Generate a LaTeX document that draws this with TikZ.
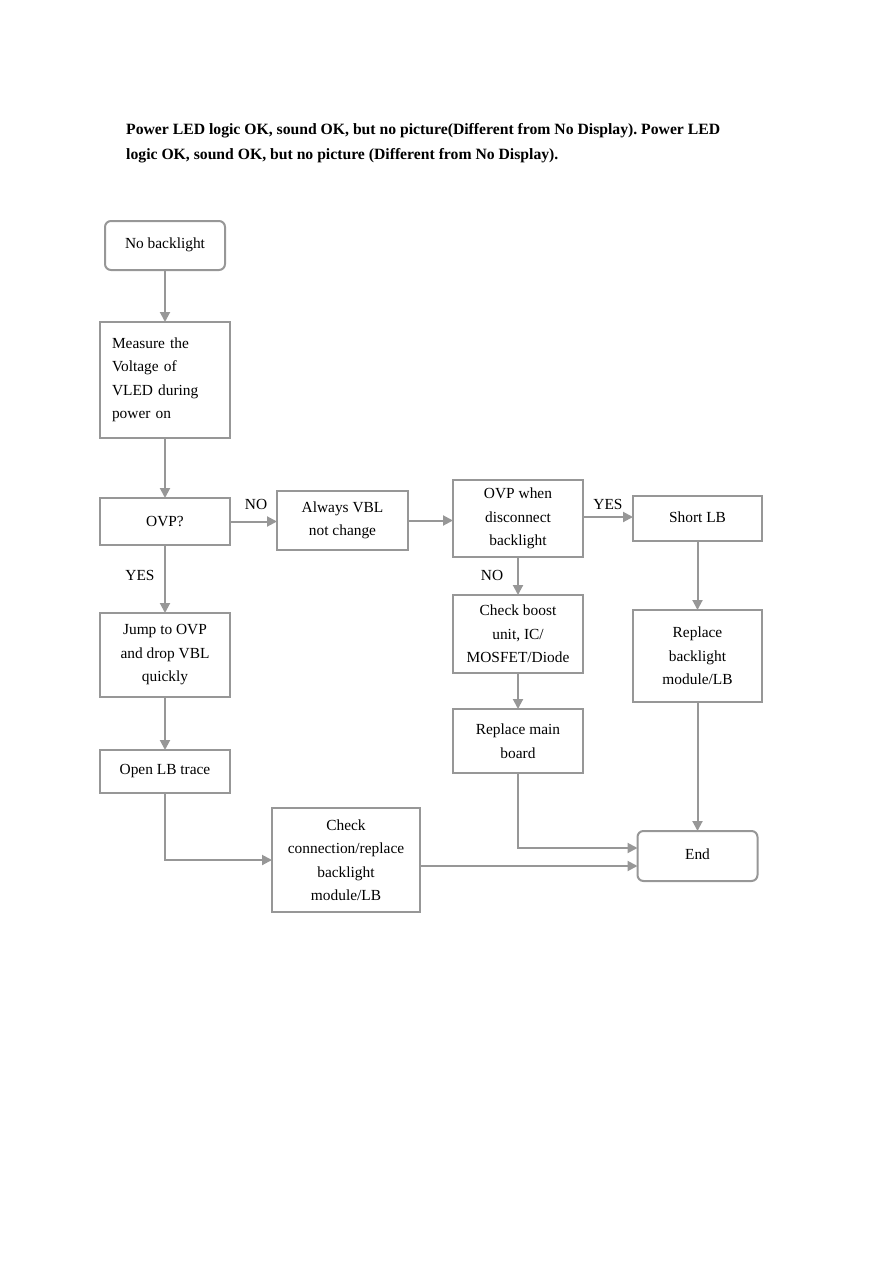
\documentclass[tikz,border=0pt]{standalone}
\usepackage{fontspec}
\setmainfont{Liberation Serif}
\usetikzlibrary{arrows.meta}
\frenchspacing
\definecolor{lg}{HTML}{979797}
\tikzset{
  box/.style={draw=lg, line width=2pt, inner sep=3pt, outer sep=0pt, align=center,
    font=\fontsize{15.4}{23.5}\selectfont},
  rbox/.style={box, rounded corners=6pt},
  conn/.style={draw=lg, line width=2pt, -{Triangle[width=10pt,length=10pt]}},
  lbl/.style={font=\fontsize{15.4}{18}\selectfont, inner sep=0pt}
}
\begin{document}
\begin{tikzpicture}[x=1pt,y=-1pt]
\useasboundingbox (0,0) rectangle (893,1263);
\node[anchor=base west, align=left, inner sep=0pt, font=\bfseries\fontsize{15.7}{25}\selectfont] (title) at (126,159)
  {Power LED logic OK, sound OK, but no picture(Different from No Display). Power LED\\
   logic OK, sound OK, but no picture (Different from No Display).};

\node[rbox, minimum width=120, minimum height=49] (nb) at (165,245.5) {\raisebox{4pt}{No backlight}};
\node[box, minimum width=130, minimum height=116, text width=106, inner xsep=12, align=left] (ms) at (165,380)
  {Measure the\\Voltage of\\VLED during\\power on};
\node[box, minimum width=130, minimum height=47] (ovp) at (165,521.5) {OVP?};
\node[box, minimum width=131, minimum height=59] (alw) at (342.5,520.5) {Always VBL\\not change};
\node[box, minimum width=130, minimum height=77] (ovw) at (518,518.5) {OVP when\\disconnect\\backlight};
\node[box, minimum width=129, minimum height=45] (sl) at (697.5,518.5) {\raisebox{3pt}{Short LB}};
\node[box, minimum width=130, minimum height=84] (jmp) at (165,655) {Jump to OVP\\and drop VBL\\quickly};
\node[box, minimum width=130, minimum height=78] (cb) at (518,634) {Check boost\\unit, IC/\\MOSFET/Diode};
\node[box, minimum width=129, minimum height=92] (rb) at (697.5,656) {Replace\\backlight\\module/LB};
\node[box, minimum width=130, minimum height=64] (rm) at (518,741) {Replace main\\board};
\node[box, minimum width=130, minimum height=43] (ol) at (165,771.5) {Open LB trace};
\node[box, minimum width=148, minimum height=104] (cc) at (346,860) {Check\\connection/replace\\backlight\\module/LB};
\node[rbox, minimum width=120, minimum height=50] (end) at (697.5,856) {\raisebox{3pt}{End}};

\coordinate (e1) at ([yshift=8pt]end.west);
\coordinate (e2) at ([yshift=-10pt]end.west);
\coordinate (olc) at (ol.south |- cc.west);

\draw[conn] (nb) -- (ms);
\draw[conn] (ms) -- (ovp);
\draw[conn] (ovp.east) -- (ovp.east -| alw.west);
\draw[conn] (alw.east) -- (alw.east -| ovw.west);
\draw[conn] ([yshift=1.5pt]ovw.east) -- ([yshift=1.5pt]ovw.east -| sl.west);
\draw[conn] (ovp) -- (jmp);
\draw[conn] (ovw) -- (cb);
\draw[conn] (cb) -- (rm);
\draw[conn] (sl) -- (rb);
\draw[conn] (jmp) -- (ol);
\draw[conn] (ol.south) -- (olc) -- (cc.west);
\draw[conn] (rm.south) |- (e1);
\draw[conn] (cc.east |- e2) -- (e2);
\draw[conn] (rb) -- (end);

\node[lbl] (no1) at (256,504) {NO};
\node[lbl] (yes1) at (608,504) {YES};
\node[lbl] (yes2) at (140,575) {YES};
\node[lbl] (no2) at (492,575) {NO};
\end{tikzpicture}
\end{document}
